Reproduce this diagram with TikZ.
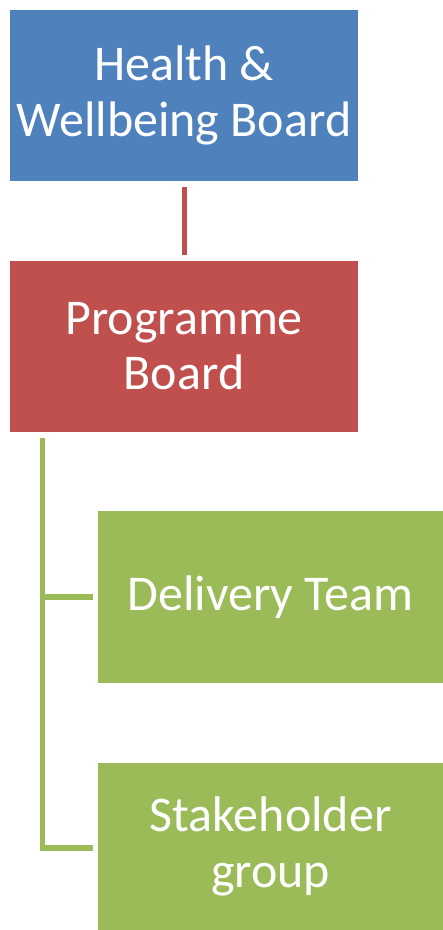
\documentclass[tikz,border=0pt]{standalone}
\usepackage{fontspec}
\setmainfont{Carlito}
\definecolor{boardblue}{HTML}{4F81BD}
\definecolor{boardred}{HTML}{C0504D}
\definecolor{teamgreen}{HTML}{9BBB59}
\begin{document}
\begin{tikzpicture}[x=1pt,y=-1pt,
  box/.style={rectangle, inner sep=0pt, text=white, align=center,
    font=\fontsize{50}{55.3}\selectfont},
  redlink/.style={draw=boardred, line width=5pt},
  greenlink/.style={draw=teamgreen, line width=5.3pt}]
  \useasboundingbox (0,0) rectangle (443,930);

  % governance boxes
  \node[box, fill=boardblue, minimum width=348pt, minimum height=171pt]
    (hwb) at (184,95.5) {Health \&\\Wellbeing Board};
  \node[box, fill=boardred, minimum width=348pt, minimum height=171pt]
    (pb) at (184,346) {Programme\\Board};
  \node[box, fill=teamgreen, minimum width=344.7pt, minimum height=172pt]
    (dt) at (270.65,597) {Delivery Team};
  \node[box, fill=teamgreen, minimum width=344.7pt, minimum height=167pt]
    (sg) at (270.65,846.5) {Stakeholder\\group};

  % reporting lines
  \draw[redlink] ([yshift=-5.7pt]hwb.south) -- ([yshift=5pt]pb.north);
  \draw[greenlink] ([xshift=32.7pt,yshift=-6pt]pb.south west)
    |- ([xshift=-5.6pt,yshift=-1.5pt]sg.west);
  \draw[greenlink] ([xshift=32.7pt]pb.south west |- dt.west)
    -- ([xshift=-5.6pt]dt.west);
\end{tikzpicture}
\end{document}
